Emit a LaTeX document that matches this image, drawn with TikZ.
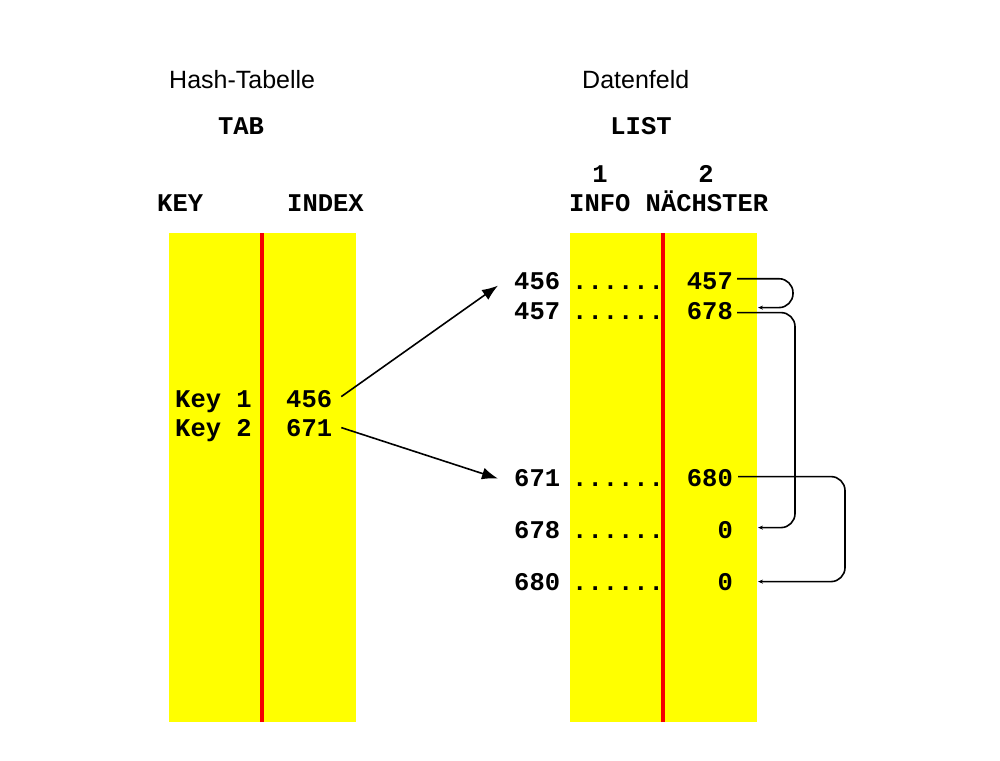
\documentclass[tikz,border=0pt]{standalone}
\usepackage{fontspec}
\setmainfont{Liberation Sans}
\newfontfamily\cmono{Liberation Mono}
\usetikzlibrary{arrows.meta}
\definecolor{hyellow}{RGB}{255,255,0}
\definecolor{hred}{RGB}{245,0,0}
\tikzset{
  mono/.style={font=\cmono\bfseries\fontsize{25.5}{30}\selectfont, inner sep=0pt},
  title/.style={font=\fontsize{25}{30}\selectfont, inner sep=0pt, anchor=base west},
  colbox/.style={fill=hyellow, draw=none},
  sepline/.style={draw=hred, line width=3.5pt},
  ptr/.style={line width=1.6pt, -{Latex[length=16pt,width=12pt]}},
  loopline/.style={line width=1.6pt, rounded corners=14pt, -{Stealth[length=5pt,width=4pt]}}
}
\begin{document}
\begin{tikzpicture}[x=1pt,y=-1pt]
\useasboundingbox[fill=white] (0,0) rectangle (1000,760);
% columns
\path[colbox] (169,233) rectangle (356,722);
\path[colbox] (570,233) rectangle (757,722);
\draw[sepline] (262,233) -- (262,722);
\draw[sepline] (663,233) -- (663,722);
% titles
\node[title] (htab) at (169,88) {Hash-Tabelle};
\node[title] (dfeld) at (582,88) {Datenfeld};
\node[mono, anchor=base] (tab) at (241,134) {TAB};
\node[mono, anchor=base] (list) at (641,134) {LIST};
\node[mono, anchor=base] (one) at (600,182) {1};
\node[mono, anchor=base] (two) at (706,182) {2};
\node[mono, anchor=base west] (keyh) at (157,211) {KEY};
\node[mono, anchor=base west] (indexh) at (287,211) {INDEX};
\node[mono, anchor=base west] (infoh) at (569,211) {INFO NÄCHSTER};
% hash table entries
\node[mono, anchor=base west] (k1) at (175,407) {Key 1};
\node[mono, anchor=base west] (t456) at (286,407) {456};
\node[mono, anchor=base west] (k2) at (175,436) {Key 2};
\node[mono, anchor=base west] (t671) at (286,436) {671};
% list entries
\node[mono, anchor=base west] (l456) at (514,289) {456};
\node[mono, anchor=base west] (d456) at (572,289) {......};
\node[mono, anchor=base east] (n457) at (733,289) {457};
\node[mono, anchor=base west] (l457) at (514,319) {457};
\node[mono, anchor=base west] (d457) at (572,319) {......};
\node[mono, anchor=base east] (n678) at (733,319) {678};
\node[mono, anchor=base west] (l671) at (514,486) {671};
\node[mono, anchor=base west] (d671) at (572,486) {......};
\node[mono, anchor=base east] (n680) at (733,486) {680};
\node[mono, anchor=base west] (l678) at (514,538) {678};
\node[mono, anchor=base west] (d678) at (572,538) {......};
\node[mono, anchor=base east] (z678) at (733,538) {0};
\node[mono, anchor=base west] (l680) at (514,590) {680};
\node[mono, anchor=base west] (d680) at (572,590) {......};
\node[mono, anchor=base east] (z680) at (733,590) {0};
% pointers from hash table
\draw[ptr] ([xshift=9pt,yshift=2pt]t456.east) -- ([xshift=-16pt,yshift=-5pt]l456.west);
\draw[ptr] ([xshift=9pt]t671.east) -- ([xshift=-16pt,yshift=-1pt]l671.west);
% chain loops
\draw[loopline] ([xshift=4pt,yshift=2pt]n457.east) -- ++(56,0) |- ([xshift=25pt,yshift=3pt]n678.east);
\draw[loopline] ([xshift=4pt,yshift=-2pt]n678.east) -- ++(58,0) |- ([xshift=25pt,yshift=2pt]z678.east);
\draw[loopline] ([xshift=5pt,yshift=1pt]n680.east) -- ++(107,0) |- ([xshift=25pt]z680.east);
\end{tikzpicture}
\end{document}
